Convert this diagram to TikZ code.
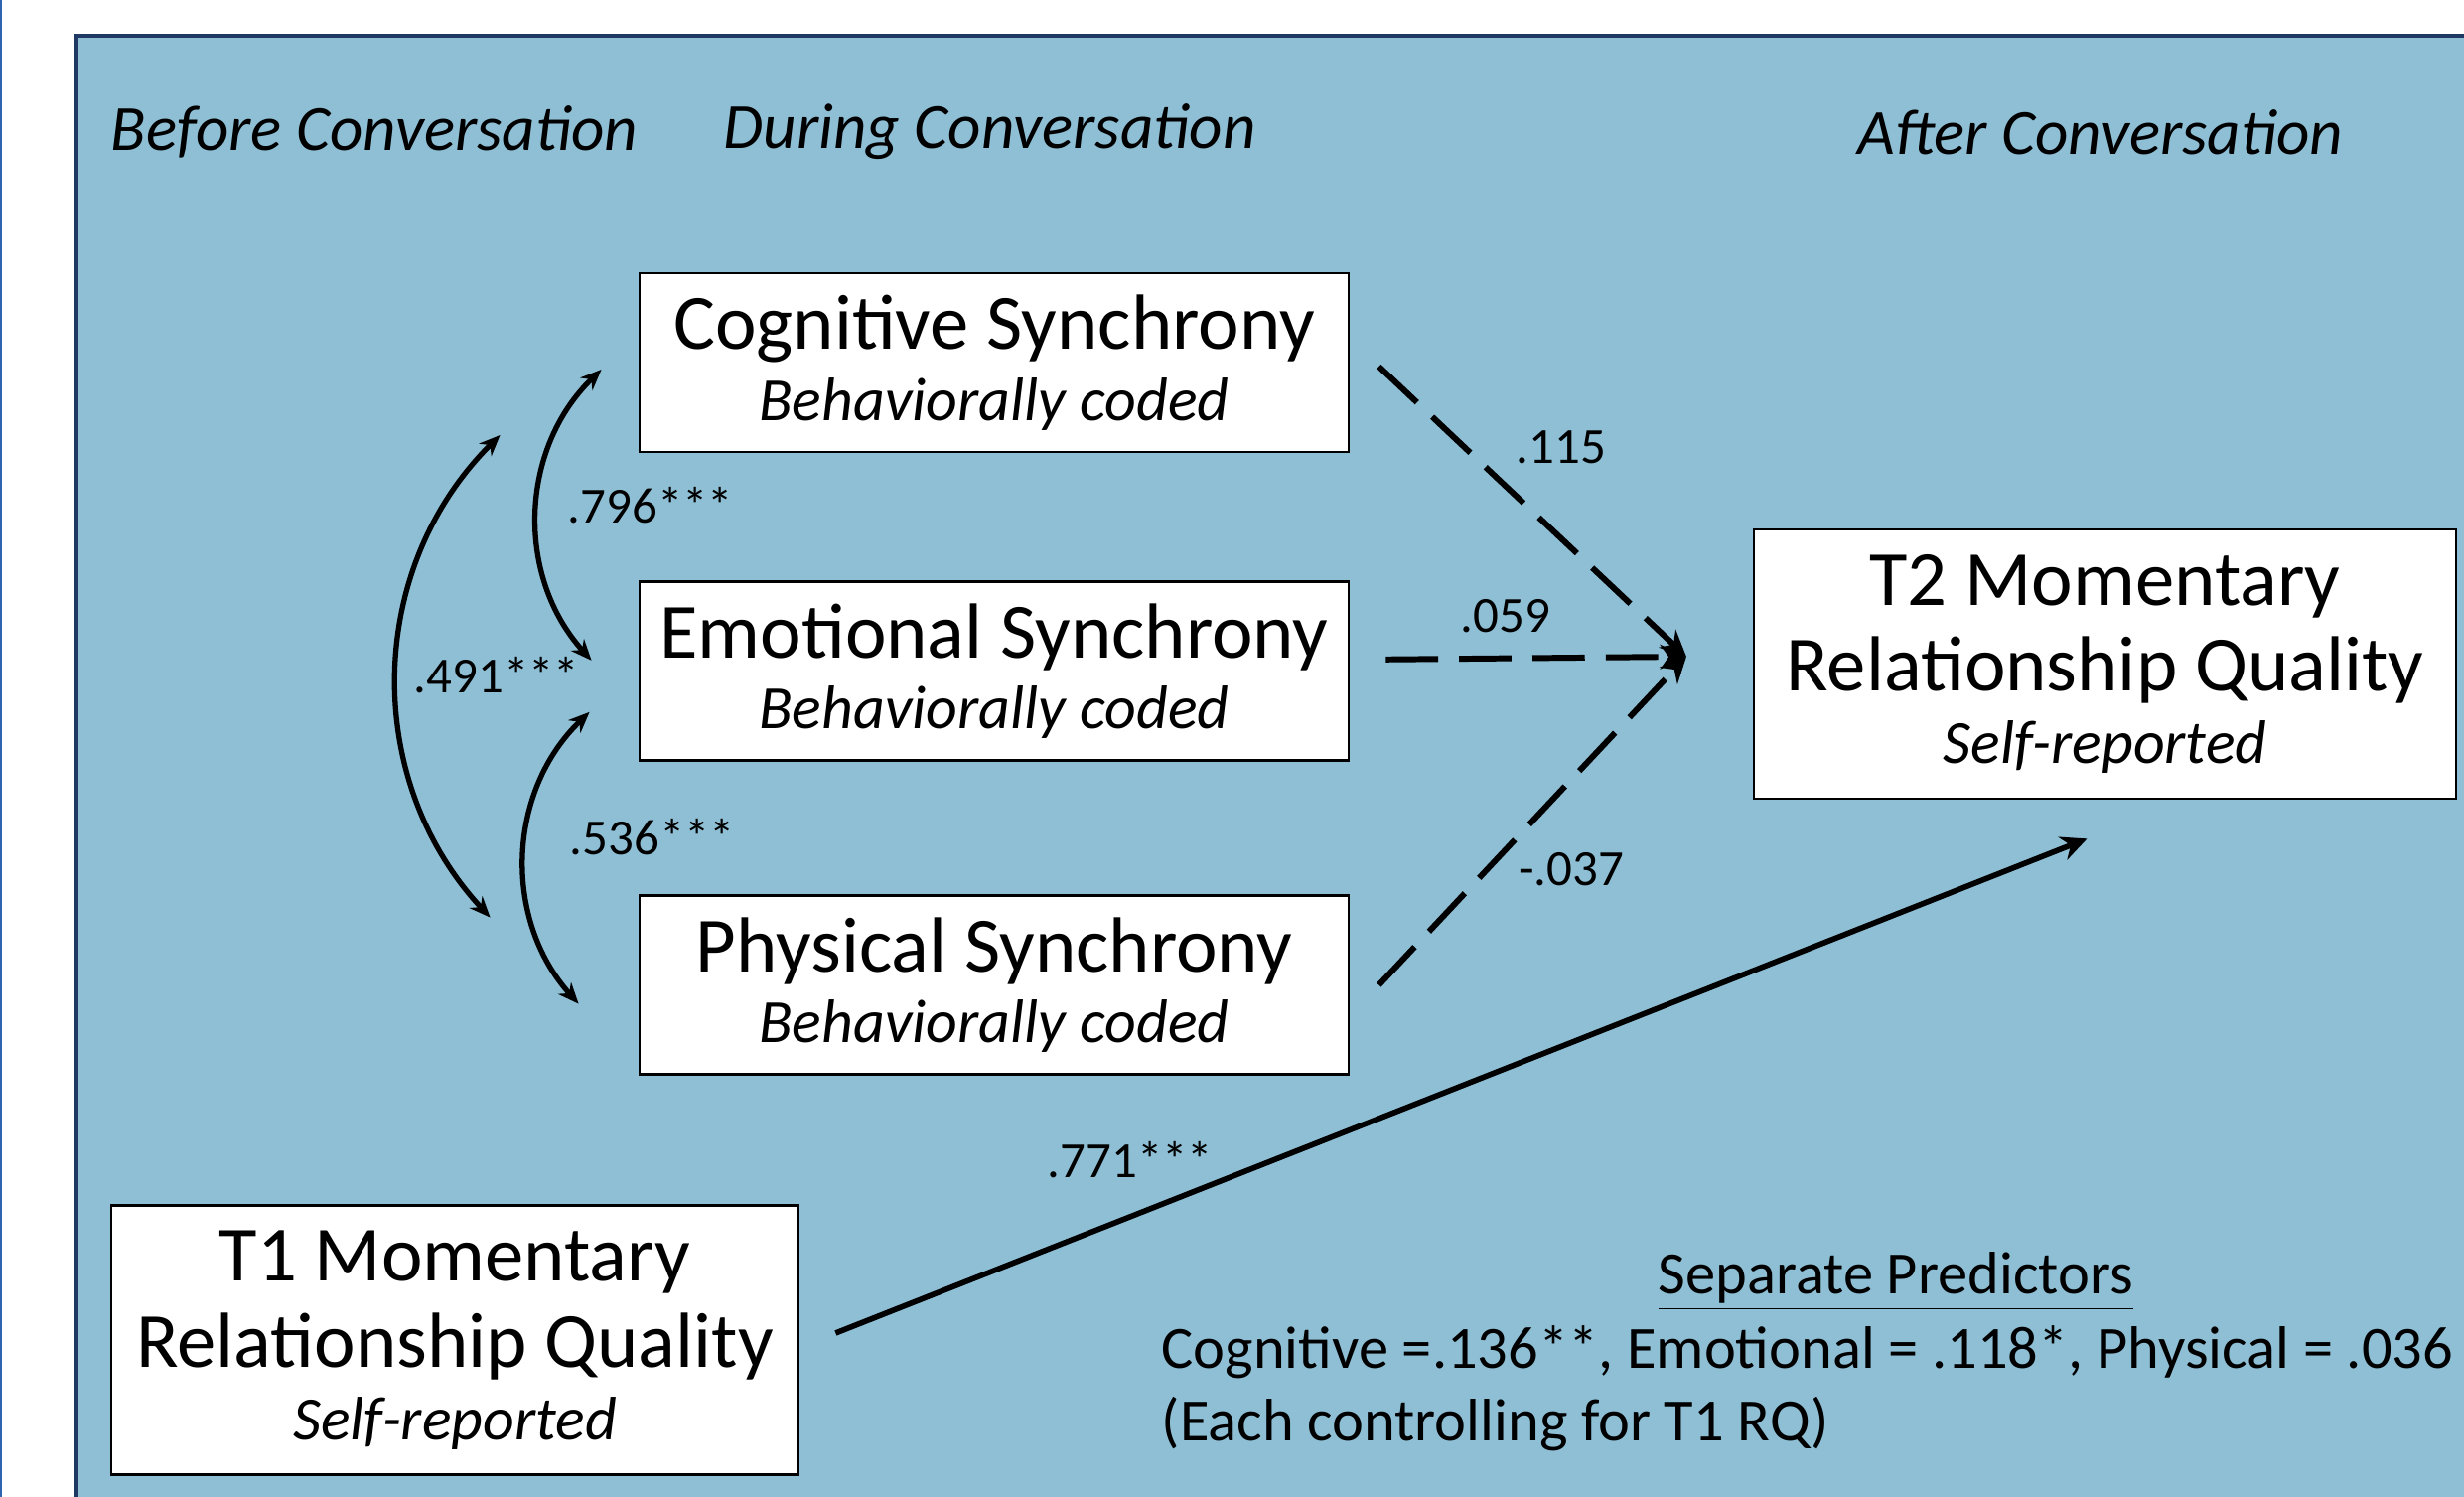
\documentclass[tikz,border=0pt]{standalone}
\usepackage{fontspec}
\setmainfont{Carlito}
\usetikzlibrary{arrows.meta, positioning}
\definecolor{panelblue}{RGB}{142, 191, 213}
\definecolor{paneledge}{RGB}{32, 56, 100}
\definecolor{sideblue}{RGB}{46, 100, 175}
\newcommand{\boxmain}{\fontsize{22.4}{26}\selectfont}
\newcommand{\boxsub}{\fontsize{17.6}{21}\selectfont\itshape}

\begin{document}
\begin{tikzpicture}[
    box/.style={draw=black, line width=0.8pt, fill=white, align=center, inner sep=0pt},
    synbox/.style={box, minimum width=7.14cm, minimum height=1.8cm},
    rqbox/.style={box, minimum height=2.71cm},
    phase/.style={anchor=west, inner sep=0pt, font=\fontsize{18.5}{22}\selectfont\itshape},
    coef/.style={font=\fontsize{14.5}{17}\selectfont},
    note/.style={anchor=west, inner sep=0pt, font=\fontsize{17.2}{20}\selectfont},
    corr/.style={line width=1.5pt, {Stealth[length=6pt,width=5pt]}-{Stealth[length=6pt,width=5pt]}, bend right=44},
    dashpath/.style={line width=1.7pt, dash pattern=on 15pt off 6pt, -{Stealth[length=7.5pt,width=7pt]}},
    solidpath/.style={line width=1.6pt, -{Stealth[length=7.5pt,width=7pt]}}
]
    \useasboundingbox (0,0) rectangle (24.81,15.07);
    \clip (0,0) rectangle (24.81,15.07);
    \fill[sideblue] (0,0) rectangle (0.025,15.07);
    \draw[paneledge, line width=1.2pt, fill=panelblue] (0.77,-1) rectangle (26,14.71);

    % time headings
    \node[phase] (before) at (1.11,13.74) {Before Conversation};
    \node[phase] (during) at (7.28,13.74) {During Conversation};
    \node[phase] (after) at (18.70,13.74) {After Conversation};

    % synchrony boxes
    \node[synbox] (cog) at (10.01,11.42) {\boxmain Cognitive Synchrony\\[3.5pt]\boxsub Behaviorally coded};
    \node[synbox, below=1.28cm of cog] (emo) {\boxmain Emotional Synchrony\\[3.5pt]\boxsub Behaviorally coded};
    \node[synbox, below=1.33cm of emo] (phys) {\boxmain Physical Synchrony\\[3.5pt]\boxsub Behaviorally coded};

    % relationship quality
    \node[rqbox, minimum width=7.07cm] (t2) at (21.195,8.385) {\boxmain T2 Momentary\\[4.5pt]\boxmain Relationship Quality\\[4pt]\boxsub Self-reported};
    \node[rqbox, minimum width=6.92cm] (t1) at (4.58,1.58) {\boxmain T1 Momentary\\[4.5pt]\boxmain Relationship Quality\\[4pt]\boxsub Self-reported};

    \coordinate (hub) at (16.98,8.46);

    % correlations
    \draw[corr] ([xshift=-3.7mm,yshift=-0.7mm]cog.west) to ([xshift=-4.7mm,yshift=1.1mm]emo.west);
    \draw[corr] ([xshift=-4.9mm,yshift=-4.1mm]emo.west) to ([xshift=-6mm,yshift=-1.9mm]phys.west);
    \draw[corr] ([xshift=-13.9mm,yshift=-7.3mm]cog.west) to ([xshift=-14.9mm,yshift=6.8mm]phys.west);
    \node[coef] (r1) at (6.55,9.98) {.796***};
    \node[coef] (r2) at (5.00,8.27) {.491***};
    \node[coef] (r3) at (6.57,6.64) {.536***};

    % paths to T2
    \draw[dashpath] ([xshift=2.9mm,yshift=-0.4mm]cog.east) -- (hub);
    \draw[dashpath] ([xshift=3.6mm,yshift=1.2mm]emo.east) -- (hub);
    \draw[dashpath] ([xshift=2.9mm]phys.east) -- (hub);
    \node[coef] (b1) at (15.72,10.57) {.115};
    \node[coef] (b2) at (15.16,8.87) {.059};
    \node[coef] (b3) at (15.82,6.32) {-.037};

    \draw[solidpath] ([xshift=3.6mm,yshift=0.7mm]t1.east) -- ([xshift=-1.8mm,yshift=-3.9mm]t2.south);
    \node[coef] (b4) at (11.38,3.39) {.771***};

    % separate models
    \node[note] (sep) at (16.69,2.17) {\underline{Separate Predictors}};
    \node[note] (each) at (11.69,1.46) {Cognitive =.136**, Emotional = .118*, Physical = .036};
    \node[note] (ctrl) at (11.69,0.73) {(Each controlling for T1 RQ)};
\end{tikzpicture}
\end{document}
